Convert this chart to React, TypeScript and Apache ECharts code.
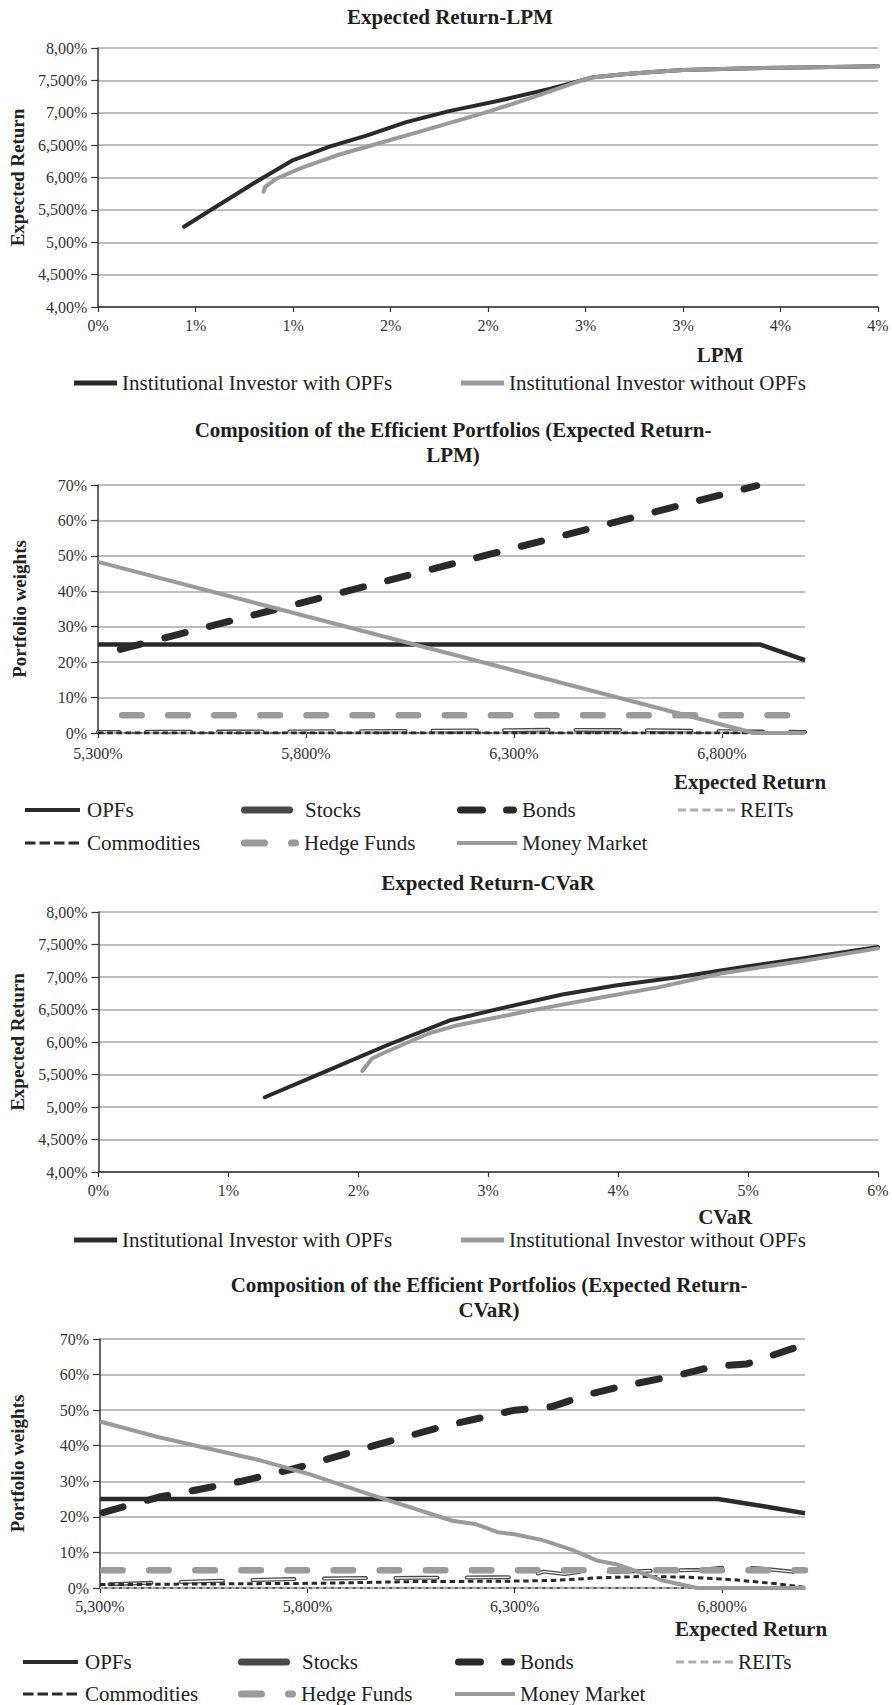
import { useEffect, useRef } from 'react';
import * as echarts from 'echarts';

const SERIF = '"Liberation Serif", "Times New Roman", Times, serif';

// ---- Efficient frontiers: [risk %, expected return %] ----
const lpmWithOPFs = [
  [0.44, 5.24], [0.61, 5.56], [0.83, 5.97], [1.0, 6.27], [1.19, 6.48], [1.38, 6.65],
  [1.58, 6.855], [1.8, 7.025], [2.06, 7.19], [2.32, 7.37], [2.54, 7.55], [2.71, 7.6],
  [2.86, 7.635], [3.0, 7.66], [3.3, 7.685], [3.6, 7.7], [4.0, 7.72],
];
const lpmWithoutOPFs = [
  [0.848, 5.78], [0.856, 5.855], [0.916, 5.985], [1.036, 6.14], [1.224, 6.343], [1.463, 6.548],
  [1.72, 6.77], [1.976, 6.994], [2.232, 7.24], [2.49, 7.51], [2.54, 7.55], [2.71, 7.6],
  [2.86, 7.635], [3.0, 7.66], [3.3, 7.685], [3.6, 7.7], [4.0, 7.72],
];
const cvarWithOPFs = [
  [1.28, 5.15], [1.74, 5.54], [2.22, 5.95], [2.7, 6.33], [3.08, 6.51], [3.57, 6.73],
  [3.98, 6.87], [4.47, 7.0], [4.95, 7.15], [5.43, 7.29], [6.0, 7.46],
];
const cvarWithoutOPFs = [
  [2.03, 5.555], [2.105, 5.746], [2.185, 5.823], [2.54, 6.131], [2.764, 6.259], [3.343, 6.49],
  [3.824, 6.67], [4.307, 6.84], [4.79, 7.055], [5.43, 7.25], [6.0, 7.44],
];

// ---- Portfolio weights along the LPM frontier: [expected return %, weight %] ----
const lpmOPFs = [[5.3, 25], [6.891, 25], [7.0, 20.6]];
const lpmStocks = [[5.3, 0.3], [5.6, 0.4], [5.9, 0.5], [6.2, 0.7], [6.4, 0.9], [6.6, 0.8], [6.8, 0.5], [7.0, 0.3]];
const lpmBonds = [[5.3, 22.0], [6.884, 69.8]];
const lpmREITs = [[5.3, 0], [7.0, 0]];
const lpmCommodities = [[5.3, 0], [7.0, 0]];
const lpmHedgeFunds = [[5.3, 5], [7.0, 5]];
const lpmMoneyMarket = [[5.3, 48.3], [6.877, 0], [7.0, 0]];

// ---- Portfolio weights along the CVaR frontier ----
const cvarOPFs = [[5.3, 25], [6.79, 25], [6.9, 23], [7.0, 21]];
const cvarStocks = [
  [5.3, 1.0], [5.55, 1.9], [5.72, 2.4], [5.89, 2.75], [6.07, 2.85], [6.25, 3.0], [6.33, 3.1],
  [6.37, 4.6], [6.42, 3.9], [6.47, 4.7], [6.55, 4.6], [6.65, 4.9], [6.75, 5.1], [6.83, 6.0],
  [6.9, 5.4], [7.0, 4.2],
];
const cvarBonds = [
  [5.3, 21.0], [5.44, 25.5], [5.64, 30], [5.77, 33.6], [5.96, 40], [6.13, 45.5], [6.3, 50],
  [6.39, 51], [6.48, 54.5], [6.55, 56.5], [6.7, 60], [6.78, 62.3], [6.86, 63], [7.0, 68.5],
];
const cvarREITs = [[5.3, 0], [7.0, 0]];
const cvarCommodities = [
  [5.3, 0.95], [5.56, 1.14], [5.835, 1.33], [6.057, 1.81], [6.279, 1.9], [6.39, 2.1],
  [6.5, 2.86], [6.61, 3.24], [6.72, 3.05], [6.83, 2.29], [6.92, 1.33], [7.0, 0.2],
];
const cvarHedgeFunds = [[5.3, 5], [7.0, 5]];
const cvarMoneyMarket = [
  [5.3, 46.8], [5.435, 42.6], [5.558, 39.3], [5.682, 36.0], [5.799, 32.2], [5.943, 26.6],
  [6.0, 24.5], [6.149, 18.9], [6.204, 18.0], [6.259, 15.7], [6.3, 15.1], [6.369, 13.4],
  [6.437, 10.8], [6.499, 7.7], [6.547, 6.6], [6.602, 4.4], [6.657, 2.1], [6.74, 0], [7.0, 0],
];

// ---- Tick labels ----
const lpmTickLabels = ['0%', '1%', '1%', '2%', '2%', '3%', '3%', '4%', '4%'];
const cvarTickLabels = ['0%', '1%', '2%', '3%', '4%', '5%', '6%'];
const returnTickLabels = ['4,00%', '4,500%', '5,00%', '5,500%', '6,00%', '6,500%', '7,00%', '7,500%', '8,00%'];
const weightTickLabels = ['0%', '10%', '20%', '30%', '40%', '50%', '60%', '70%'];
const compositionTicks = [5.3, 5.8, 6.3, 6.8];
const compositionTickLabels = ['5,300%', '5,800%', '6,300%', '6,800%'];

const WITH_OPFS = 'Institutional Investor with OPFs';
const WITHOUT_OPFS = 'Institutional Investor without OPFs';

const C_DARK = '#2a2a2a';
const C_LIGHT = '#9a9a9a';
const C_STOCKS = '#4a4a4a';
const C_REITS = '#adadad';
const AXIS_COLOR = '#333';
const GRID_COLOR = '#a9a9a9';

const tickLabelStyle = { fontFamily: SERIF, fontSize: 16, color: '#333' };
const yNameStyle = { fontFamily: SERIF, fontSize: 19, fontWeight: 'bold', color: '#222' };
const xNameStyle = { fontFamily: SERIF, fontSize: 21, fontWeight: 'bold', color: '#222', lineHeight: 21 };
const axisLine = { show: true, onZero: false, lineStyle: { color: AXIS_COLOR, width: 1.5 } };

function pill(a: number, b: number, h: number) {
  const r = h / 2;
  return `M${a + r} 0 L${b - r} 0 A${r} ${r} 0 0 1 ${b - r} ${h} L${a + r} ${h} A${r} ${r} 0 0 1 ${a + r} 0 Z`;
}
function bar(a: number, b: number, h: number) {
  return `M${a} 0 L${b} 0 L${b} ${h} L${a} ${h} Z`;
}

const ICON_STOCKS = 'path://' + pill(0, 52, 7);
const ICON_BONDS = 'path://' + pill(0, 29, 7) + ' ' + pill(46, 60, 7);
const ICON_HEDGE = 'path://' + pill(0, 27, 7) + ' ' + pill(47, 58, 7);
const ICON_REITS = 'path://' + [0, 12.25, 24.5, 36.75, 49].map((s) => bar(s, s + 8, 3)).join(' ');
const ICON_COMM = 'path://' + [0, 14.5, 29, 43.5].map((s) => bar(s, s + 10.5, 3)).join(' ');

function yAxis(gridIndex: number, min: number, max: number, interval: number, labels: string[], name: string, nameGap: number) {
  return {
    type: 'value', gridIndex, min, max, interval,
    axisLine,
    axisTick: { show: true, length: 7, lineStyle: { color: AXIS_COLOR, width: 1.2 } },
    axisLabel: {
      ...tickLabelStyle, margin: 11,
      formatter: (v: number) => labels[Math.round((v - min) / interval)] ?? '',
    },
    splitLine: { show: true, lineStyle: { color: GRID_COLOR, width: 1.5 } },
    name, nameLocation: 'middle', nameRotate: 90, nameGap, nameTextStyle: yNameStyle,
  };
}

function frontierXAxis(gridIndex: number, max: number, interval: number, labels: string[], name: string, shift: number, nameGap: number) {
  return {
    type: 'value', gridIndex, min: 0, max, interval,
    axisLine,
    axisTick: { show: true, length: 5, lineStyle: { color: AXIS_COLOR, width: 1.2 } },
    axisLabel: {
      ...tickLabelStyle, margin: 10,
      formatter: (v: number) => labels[Math.round(v / interval)] ?? '',
    },
    splitLine: { show: false },
    name, nameLocation: 'middle', nameGap,
    nameTextStyle: { ...xNameStyle, padding: [0, 0, 0, shift * 2] },
  };
}

function compositionXAxis(gridIndex: number, labelMargin: number, nameGap: number) {
  const labelFor = (v: number) => {
    const i = compositionTicks.findIndex((t) => Math.abs(t - v) < 1e-6);
    return i >= 0 ? compositionTickLabels[i] : '';
  };
  return {
    type: 'value', gridIndex, min: 5.3, max: 7.0, interval: 0.5,
    axisLine,
    axisTick: { show: true, length: 5, customValues: compositionTicks, lineStyle: { color: AXIS_COLOR, width: 1.2 } },
    axisLabel: { ...tickLabelStyle, margin: labelMargin, customValues: compositionTicks, formatter: labelFor },
    splitLine: { show: false },
    name: 'Expected Return', nameLocation: 'middle', nameGap,
    nameTextStyle: { ...xNameStyle, padding: [0, 0, 0, 2 * (750 - 451.5)] },
  };
}

function line(name: string, data: number[][], axis: number, color: string, width: number, style: Record<string, unknown> = {}) {
  return {
    type: 'line', name, data, xAxisIndex: axis, yAxisIndex: axis,
    symbol: 'none', showSymbol: false, smooth: false, silent: true,
    emphasis: { disabled: true },
    lineStyle: { color, width, join: 'round', cap: 'round', ...style },
    itemStyle: { color },
  };
}

function compositionSeries(axis: number, d: {
  opfs: number[][]; stocks: number[][]; bonds: number[][]; reits: number[][];
  comm: number[][]; hedge: number[][]; mm: number[][];
  stockDash: number[]; stockOffset: number; bondOffset: number; hedgeOffset: number;
}) {
  return [
    line('OPFs', d.opfs, axis, C_DARK, 4.5, { cap: 'butt' }),
    line('Stocks', d.stocks, axis, C_STOCKS, 4, { type: d.stockDash, dashOffset: d.stockOffset }),
    line('Stocks', d.stocks, axis, '#ffffff', 1.4, { type: d.stockDash, dashOffset: d.stockOffset }),
    line('Bonds', d.bonds, axis, C_DARK, 7, { type: [21, 25], dashOffset: d.bondOffset }),
    line('REITs', d.reits, axis, C_REITS, 2.5, { type: [4.5, 2.8], cap: 'butt' }),
    line('Commodities', d.comm, axis, C_DARK, 3, { type: [5.5, 3.7], cap: 'butt' }),
    line('Hedge Funds', d.hedge, axis, C_LIGHT, 6.5, { type: [19.5, 26.6], dashOffset: d.hedgeOffset }),
    line('Money Market', d.mm, axis, C_LIGHT, 4, { cap: 'butt' }),
  ];
}

function legendItem(name: string, left: number, yCenter: number, w: number, h: number, icon: string, pad = 0) {
  return {
    data: [{ name, icon }],
    left, top: yCenter - 11, padding: 0, itemGap: 0,
    itemWidth: w, itemHeight: h, symbolKeepAspect: false,
    itemStyle: { borderWidth: 0 },
    textStyle: { fontFamily: SERIF, fontSize: 21, color: '#222', lineHeight: 22, padding: [0, 0, 0, pad] },
  };
}

function compositionLegends(cols: number[], row1: number, row2: number) {
  return [
    legendItem('OPFs', cols[0], row1, 55, 4, 'rect', 2),
    legendItem('Stocks', cols[1], row1, 52, 7, ICON_STOCKS, 7),
    legendItem('Bonds', cols[2], row1, 60, 7, ICON_BONDS),
    legendItem('REITs', cols[3], row1, 57, 3, ICON_REITS),
    legendItem('Commodities', cols[0], row2, 54, 3, ICON_COMM, 3),
    legendItem('Hedge Funds', cols[1], row2, 58, 7, ICON_HEDGE),
    legendItem('Money Market', cols[2], row2, 60, 4, 'rect'),
  ];
}

function title(text: string, centerX: number, top: number) {
  return {
    text, left: centerX, top, padding: 0, textAlign: 'center', textVerticalAlign: 'top',
    textStyle: { fontFamily: SERIF, fontSize: 21, fontWeight: 'bold', color: '#1e1e1e', lineHeight: 25 },
  };
}

function buildOption() {
  return {
    animation: false,
    backgroundColor: '#ffffff',
    title: [
      title('Expected Return-LPM', 450, 4.5),
      title('Composition of the Efficient Portfolios (Expected Return-\nLPM)', 453, 417.5),
      title('Expected Return-CVaR', 488, 870.5),
      title('Composition of the Efficient Portfolios (Expected Return-\nCVaR)', 489, 1272.5),
    ],
    grid: [
      { left: 98, top: 48, width: 780, height: 259 },
      { left: 98, top: 485, width: 707, height: 248 },
      { left: 98, top: 912, width: 780, height: 260 },
      { left: 98, top: 1339, width: 707, height: 249 },
    ],
    xAxis: [
      frontierXAxis(0, 4, 0.5, lpmTickLabels, 'LPM', 720 - 488, 37.5),
      compositionXAxis(1, 12, 38.5),
      frontierXAxis(2, 6, 1, cvarTickLabels, 'CVaR', 725 - 488, 34.5),
      compositionXAxis(3, 10, 30.5),
    ],
    yAxis: [
      yAxis(0, 4, 8, 0.5, returnTickLabels, 'Expected Return', 71),
      yAxis(1, 0, 70, 10, weightTickLabels, 'Portfolio weights', 69.5),
      yAxis(2, 4, 8, 0.5, returnTickLabels, 'Expected Return', 71.5),
      yAxis(3, 0, 70, 10, weightTickLabels, 'Portfolio weights', 73),
    ],
    legend: [
      legendItem(WITH_OPFS, 74, 383, 43, 5, 'rect'),
      legendItem(WITHOUT_OPFS, 461, 383, 43, 5, 'rect'),
      ...compositionLegends([25, 241, 457, 678], 810, 843),
      legendItem(WITH_OPFS, 74, 1240, 43, 5, 'rect'),
      legendItem(WITHOUT_OPFS, 461, 1240, 43, 5, 'rect'),
      ...compositionLegends([23, 238, 455, 676], 1662, 1694),
    ],
    series: [
      line(WITH_OPFS, lpmWithOPFs, 0, C_DARK, 4),
      line(WITHOUT_OPFS, lpmWithoutOPFs, 0, C_LIGHT, 4),
      ...compositionSeries(1, {
        opfs: lpmOPFs, stocks: lpmStocks, bonds: lpmBonds, reits: lpmREITs,
        comm: lpmCommodities, hedge: lpmHedgeFunds, mm: lpmMoneyMarket,
        stockDash: [44.5, 27], stockOffset: 22.5, bondOffset: 22.8, hedgeOffset: 22.2,
      }),
      line(WITH_OPFS, cvarWithOPFs, 2, C_DARK, 4),
      line(WITHOUT_OPFS, cvarWithoutOPFs, 2, C_LIGHT, 4),
      ...compositionSeries(3, {
        opfs: cvarOPFs, stocks: cvarStocks, bonds: cvarBonds, reits: cvarREITs,
        comm: cvarCommodities, hedge: cvarHedgeFunds, mm: cvarMoneyMarket,
        stockDash: [42, 29.5], stockOffset: 61.5, bondOffset: 43.4, hedgeOffset: 42.6,
      }),
    ],
  };
}

export default function App() {
  const ref = useRef<HTMLDivElement>(null);
  useEffect(() => {
    if (!ref.current) return;
    const chart = echarts.init(ref.current, null, { renderer: 'svg' });
    chart.setOption(buildOption() as any);
    return () => chart.dispose();
  }, []);
  return (
    <div
      ref={ref}
      style={{ position: 'absolute', left: 0, top: 0, width: 892, height: 1705, background: '#fff' }}
    />
  );
}
